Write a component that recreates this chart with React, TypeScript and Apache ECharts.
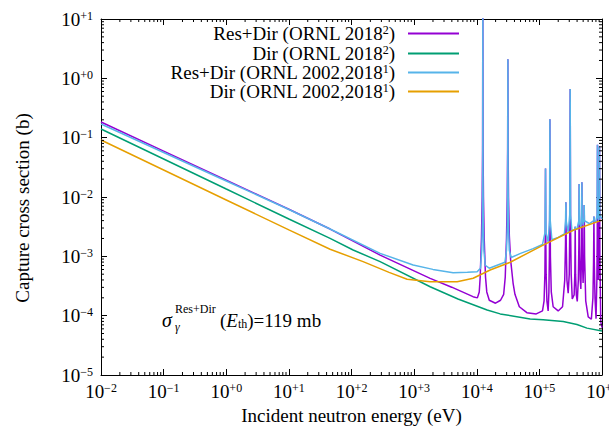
import React, { useEffect, useRef } from "react";
import * as echarts from "echarts";

const FONT = "'Liberation Serif', 'DejaVu Serif', serif";
const FS = 19;
const FS_SMALL = 12;
const X_MIN = 1e-2;
const X_MAX = 1e6;
const Y_MIN = 1e-5;
const Y_MAX = 10;

// Decade exponents used for tick labels
const xDecades = [-2, -1, 0, 1, 2, 3, 4, 5, 6];
const yDecades = [-5, -4, -3, -2, -1, 0, 1];

const seriesNames = [
  "Res+Dir (ORNL 2018²)",
  "Dir (ORNL 2018²)",
  "Res+Dir (ORNL 2002,2018¹)",
  "Dir (ORNL 2002,2018¹)",
];
const legendBase = [
  "Res+Dir (ORNL 2018",
  "Dir (ORNL 2018",
  "Res+Dir (ORNL 2002,2018",
  "Dir (ORNL 2002,2018",
];
const legendSup = ["2", "2", "1", "1"];
const seriesColors = ["#9400d3", "#009e73", "#56b4e9", "#e69f00"];

// Values as [log10(E / eV), log10(sigma / b)]
const resDir2018Log: [number, number][] = [
  [-2, -0.736], [-1, -1.226], [0, -1.716], [1, -2.206], [1.658, -2.54],
  [2.457, -2.98], [3.256, -3.371], [3.6, -3.52], [3.94, -3.68], [4.01, -3.7],
  [4.04, -3.6], [4.055, -3.35], [4.075, -2.7], [4.087, -2.0], [4.093, -1.2],
  [4.097, 1.3], [4.101, -1.2], [4.107, -2.0], [4.119, -2.7], [4.14, -3.35],
  [4.16, -3.6], [4.2, -3.74], [4.3, -3.79], [4.38, -3.74], [4.43, -3.64],
  [4.455, -3.35], [4.475, -2.7], [4.487, -2.0], [4.493, -1.2], [4.497, 0.32],
  [4.501, -1.2], [4.507, -2.0], [4.52, -2.65], [4.54, -3.05], [4.58, -3.45],
  [4.61, -3.64], [4.68, -3.85], [4.8, -3.95], [4.95, -3.97], [5.05, -3.92],
  [5.075, -3.75], [5.088, -3.3], [5.094, -2.6], [5.098, -1.52], [5.102, -2.6],
  [5.108, -3.3], [5.12, -3.75], [5.14, -3.92], [5.152, -3.6], [5.16, -3.0],
  [5.165, -2.2], [5.168, -0.69], [5.171, -2.2], [5.176, -3.0], [5.19, -3.6],
  [5.22, -3.85], [5.3, -3.92], [5.37, -3.85], [5.405, -3.4], [5.417, -2.8],
  [5.423, -2.09], [5.429, -2.8], [5.44, -3.4], [5.46, -3.62], [5.477, -3.3],
  [5.486, -2.5], [5.492, -0.18], [5.498, -2.5], [5.508, -3.3], [5.525, -3.72],
  [5.555, -3.65], [5.566, -3.3], [5.572, -2.5], [5.578, -3.3], [5.59, -3.65],
  [5.605, -3.76], [5.622, -3.4], [5.631, -2.8], [5.636, -1.78], [5.641, -2.8],
  [5.652, -3.4], [5.662, -3.55], [5.672, -3.0], [5.679, -1.75], [5.686, -3.0],
  [5.698, -3.45], [5.71, -3.0], [5.716, -2.135], [5.722, -3.0], [5.74, -3.75],
  [5.78, -4.02], [5.83, -4.06], [5.855, -3.7], [5.865, -3.1], [5.871, -2.33],
  [5.877, -3.1], [5.888, -3.7], [5.905, -4.05], [5.918, -3.4], [5.924, -2.7],
  [5.928, -1.12], [5.932, -2.7], [5.942, -3.4], [5.952, -3.1], [5.96, -1.15],
  [5.966, -3.0], [5.98, -4.1], [6.0, -4.2],
];

const dir2018Log: [number, number][] = [
  [-2, -0.854], [-1, -1.36], [0, -1.866], [1, -2.37], [1.658, -2.697],
  [2.026, -2.893], [2.457, -3.09], [3.256, -3.512], [3.7, -3.72], [4.166, -3.905],
  [4.374, -3.97], [4.853, -4.056], [5.06, -4.07], [5.38, -4.1], [5.6, -4.15],
  [5.76, -4.21], [6.0, -4.26],
];

const resDir2002Log: [number, number][] = [
  [-2, -0.77], [-1, -1.25], [0, -1.73], [1, -2.21], [1.658, -2.54],
  [2.457, -2.95], [2.984, -3.146], [3.3, -3.22], [3.623, -3.276], [3.85, -3.27],
  [4.006, -3.26], [4.06, -3.2], [4.08, -2.9], [4.09, -2.4], [4.095, -1.5],
  [4.097, 1.3], [4.099, -1.5], [4.104, -2.4], [4.114, -2.9], [4.135, -3.15],
  [4.2, -3.2], [4.45, -3.1], [4.475, -2.9], [4.488, -2.5], [4.494, -1.6],
  [4.497, 0.32], [4.5, -1.6], [4.506, -2.5], [4.52, -2.9], [4.55, -3.02],
  [4.7, -2.95], [4.9, -2.87], [5.05, -2.8], [5.09, -2.6], [5.098, -1.52],
  [5.105, -2.6], [5.14, -2.76], [5.162, -2.4], [5.168, -0.69], [5.174, -2.4],
  [5.2, -2.72], [5.3, -2.68], [5.4, -2.62], [5.418, -2.4], [5.423, -2.09],
  [5.428, -2.4], [5.46, -2.6], [5.485, -2.3], [5.492, -0.18], [5.498, -2.3],
  [5.52, -2.57], [5.568, -2.55], [5.572, -2.5], [5.576, -2.55], [5.6, -2.54],
  [5.63, -2.4], [5.636, -1.78], [5.642, -2.45], [5.665, -2.5], [5.675, -2.3],
  [5.679, -1.75], [5.684, -2.35], [5.7, -2.47], [5.712, -2.4], [5.716, -2.135],
  [5.72, -2.4], [5.8, -2.45], [5.868, -2.4], [5.871, -2.33], [5.875, -2.4],
  [5.9, -2.42], [5.922, -2.3], [5.928, -1.12], [5.934, -2.35], [5.95, -2.4],
  [5.957, -2.3], [5.96, -1.15], [5.964, -2.3], [6.0, -2.37],
];

const dir2002Log: [number, number][] = [
  [-2, -1.04], [-1, -1.545], [0, -2.05], [1, -2.555], [1.658, -2.88],
  [2.185, -3.09], [2.6, -3.27], [2.888, -3.387], [3.256, -3.428], [3.687, -3.428],
  [3.943, -3.37], [4.214, -3.23], [4.534, -3.1], [5.06, -2.81], [5.54, -2.56],
  [6.0, -2.39],
];

const seriesLogData = [resDir2018Log, dir2018Log, resDir2002Log, dir2002Log];

const toValues = (arr: [number, number][]) =>
  arr.map(([e, s]) => [Math.pow(10, e), Math.pow(10, s)]);

const minorMultipliers = [2, 3, 4, 5, 6, 7, 8, 9];
const minorX: number[] = [];
xDecades.slice(0, -1).forEach((k) =>
  minorMultipliers.forEach((m) => minorX.push(m * Math.pow(10, k)))
);
const minorY: number[] = [];
yDecades.slice(0, -1).forEach((k) =>
  minorMultipliers.forEach((m) => minorY.push(m * Math.pow(10, k)))
);

const powLabel = (v: number) => {
  const k = Math.round(Math.log10(v));
  const e = k < 0 ? "−" + -k : "+" + k;
  return `{b|10}{s|${e}}`;
};

const labelRich = {
  b: { fontSize: FS, fontFamily: FONT, color: "#000" },
  s: { fontSize: FS_SMALL, fontFamily: FONT, color: "#000", verticalAlign: "top" },
};

export default function App() {
  const ref = useRef<HTMLDivElement>(null);

  useEffect(() => {
    if (!ref.current) return;
    const chart = echarts.init(ref.current, undefined, { renderer: "svg" });

    const grid = { left: 101, right: 7, top: 19, bottom: 59, containLabel: false, outerBoundsMode: "none" };

    const axisCommon = {
      type: "log",
      logBase: 10,
      axisLine: { show: true, onZero: false, lineStyle: { color: "#000", width: 1 } },
      axisTick: { show: true, inside: true, length: 6, lineStyle: { color: "#000" } },
      splitLine: { show: false },
      minorTick: { show: false },
    };

    const lineSeries = seriesNames.map((name, i) => ({
      name,
      type: "line",
      data: toValues(seriesLogData[i]),
      symbol: "none",
      showSymbol: false,
      lineStyle: { color: seriesColors[i], width: 1.5 },
      itemStyle: { color: seriesColors[i] },
      color: seriesColors[i],
      z: 3 + i,
      clip: true,
    }));

    const tickStyle = { stroke: "#000", lineWidth: 1 };

    const minorXSeries = {
      type: "custom",
      coordinateSystem: "cartesian2d",
      silent: true,
      clip: false,
      z: 10,
      data: minorX.map((v) => [v, Y_MIN]),
      encode: { x: 0, y: 1 },
      renderItem: (_p: any, api: any) => {
        const v = api.value(0);
        const b = api.coord([v, Y_MIN]);
        const t = api.coord([v, Y_MAX]);
        return {
          type: "group",
          children: [
            { type: "line", shape: { x1: b[0], y1: b[1], x2: b[0], y2: b[1] - 3 }, style: tickStyle },
            { type: "line", shape: { x1: t[0], y1: t[1], x2: t[0], y2: t[1] + 3 }, style: tickStyle },
          ],
        };
      },
    };

    const minorYSeries = {
      type: "custom",
      coordinateSystem: "cartesian2d",
      silent: true,
      clip: false,
      z: 10,
      data: minorY.map((v) => [X_MIN, v]),
      encode: { x: 0, y: 1 },
      renderItem: (_p: any, api: any) => {
        const v = api.value(1);
        const l = api.coord([X_MIN, v]);
        const r = api.coord([X_MAX, v]);
        return {
          type: "group",
          children: [
            { type: "line", shape: { x1: l[0], y1: l[1], x2: l[0] + 3, y2: l[1] }, style: tickStyle },
            { type: "line", shape: { x1: r[0], y1: r[1], x2: r[0] - 3, y2: r[1] }, style: tickStyle },
          ],
        };
      },
    };

    const legendTops = [19, 39, 58, 77];
    const legends = seriesNames.map((name, i) => ({
      data: [name],
      orient: "vertical",
      align: "right",
      right: 145,
      top: legendTops[i],
      itemWidth: 51,
      itemHeight: 2,
      selectedMode: false,
      icon: "rect",
      itemStyle: { color: seriesColors[i] },
      formatter: () => `{t|${legendBase[i]}}{s|${legendSup[i]}}{t|)}{g| }`,
      textStyle: {
        fontFamily: FONT,
        color: "#000",
        rich: {
          t: { fontSize: FS, fontFamily: FONT, color: "#000" },
          s: { fontSize: FS_SMALL, fontFamily: FONT, color: "#000", verticalAlign: "top" },
          g: { width: 8, fontSize: FS, fontFamily: FONT },
        },
      },
    }));

    const option: any = {
      animation: false,
      backgroundColor: "#fff",
      textStyle: { fontFamily: FONT },
      grid,
      legend: legends,
      xAxis: [
        {
          ...axisCommon,
          position: "bottom",
          min: X_MIN,
          max: X_MAX,
          splitNumber: 8,
          name: "Incident neutron energy (eV)",
          nameLocation: "middle",
          nameGap: 27,
          nameTextStyle: { fontFamily: FONT, fontSize: FS, color: "#000" },
          axisLabel: {
            show: true,
            margin: 7,
            color: "#000",
            fontFamily: FONT,
            formatter: powLabel,
            rich: labelRich,
            showMinLabel: true,
            showMaxLabel: true,
            hideOverlap: false,
          },
        },
        {
          ...axisCommon,
          position: "top",
          min: X_MIN,
          max: X_MAX,
          splitNumber: 8,
          axisLabel: { show: false },
        },
      ],
      yAxis: [
        {
          ...axisCommon,
          position: "left",
          min: Y_MIN,
          max: Y_MAX,
          splitNumber: 6,
          axisLabel: {
            show: true,
            margin: 8,
            color: "#000",
            fontFamily: FONT,
            formatter: powLabel,
            rich: labelRich,
            showMinLabel: true,
            showMaxLabel: true,
            hideOverlap: false,
          },
        },
        {
          ...axisCommon,
          position: "right",
          min: Y_MIN,
          max: Y_MAX,
          splitNumber: 6,
          axisLabel: { show: false },
        },
      ],
      graphic: [
        {
          type: "text",
          x: 22,
          y: 208,
          rotation: Math.PI / 2,
          style: {
            text: "Capture cross section (b)",
            font: `${FS}px ${FONT}`,
            fill: "#000",
            textAlign: "center",
            textVerticalAlign: "middle",
          },
        },
        {
          type: "group",
          children: [
            { type: "text", x: 162, y: 320, style: { text: "σ", font: `italic 20px ${FONT}`, fill: "#000", textVerticalAlign: "middle" } },
            { type: "text", x: 175, y: 309, style: { text: "Res+Dir", font: `${FS_SMALL}px ${FONT}`, fill: "#000", textVerticalAlign: "middle" } },
            { type: "text", x: 175, y: 327, style: { text: "γ", font: `italic ${FS_SMALL}px ${FONT}`, fill: "#000", textVerticalAlign: "middle" } },
            {
              type: "text",
              x: 220,
              y: 320,
              style: {
                text: "{n|(}{i|E}{u|th}{n|)=119 mb}",
                textVerticalAlign: "middle",
                font: `${FS}px ${FONT}`,
                rich: {
                  n: { fontSize: FS, fontFamily: FONT, fill: "#000" },
                  i: { fontSize: FS, fontFamily: FONT, fontStyle: "italic", fill: "#000" },
                  u: { fontSize: FS_SMALL, fontFamily: FONT, fill: "#000", verticalAlign: "bottom" },
                },
              },
            },
          ],
        },
      ],
      series: [...lineSeries, minorXSeries, minorYSeries],
    };

    chart.setOption(option);
    return () => chart.dispose();
  }, []);

  return (
    <div
      ref={ref}
      style={{ position: "fixed", left: 0, top: 0, width: 609, height: 434, background: "#fff", fontFamily: FONT }}
    />
  );
}
